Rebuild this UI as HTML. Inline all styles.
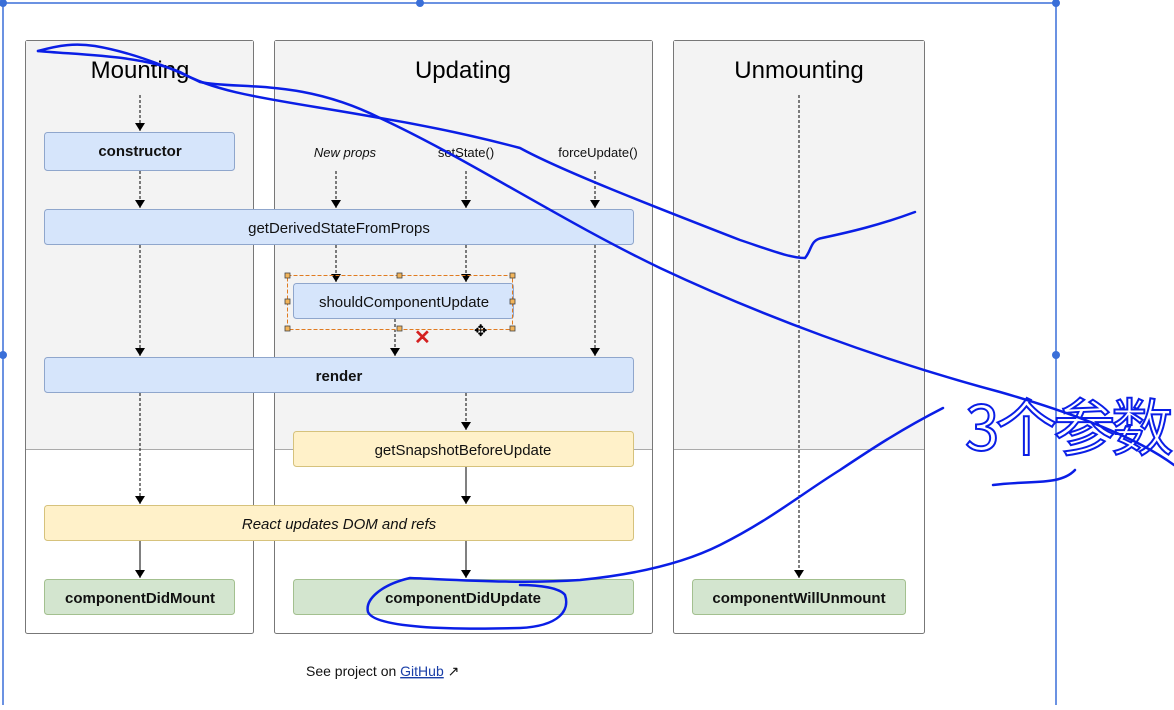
<!DOCTYPE html>
<html><head><meta charset="utf-8"><style>
body{margin:0;width:1174px;height:705px;overflow:hidden;background:#fff;font-family:"Liberation Sans",sans-serif}
</style></head><body>
<svg width="1174" height="705" xmlns="http://www.w3.org/2000/svg" font-family="Liberation Sans, sans-serif">
<defs>
<marker id="b" viewBox="0 0 8 10" markerWidth="8" markerHeight="10" refX="8" refY="5" orient="auto" markerUnits="userSpaceOnUse">
<path d="M0,0 L8,5 L0,10 z" fill="#000"/>
</marker>
</defs>
<g stroke="#777" stroke-width="1">
<rect x="25.5" y="40.5" width="228" height="593" fill="#fff" rx="2"/>
<rect x="274.5" y="40.5" width="378" height="593" fill="#fff" rx="2"/>
<rect x="673.5" y="40.5" width="251" height="593" fill="#fff" rx="2"/>
</g>
<g fill="#f3f3f3">
<rect x="26" y="41" width="227" height="408"/>
<rect x="275" y="41" width="377" height="408"/>
<rect x="674" y="41" width="250" height="408"/>
</g>
<g stroke="#aaa"><line x1="26" y1="449.5" x2="253" y2="449.5"/><line x1="275" y1="449.5" x2="652" y2="449.5"/><line x1="674" y1="449.5" x2="924" y2="449.5"/></g>
<g font-size="24" text-anchor="middle" fill="#000">
<text x="140" y="78">Mounting</text><text x="463" y="78">Updating</text><text x="799" y="78">Unmounting</text>
</g>
<g stroke="#000" stroke-width="1" fill="none" marker-end="url(#b)">
<g stroke-dasharray="3,2">
<line x1="140" y1="95" x2="140" y2="131"/><line x1="140" y1="171" x2="140" y2="208"/>
<line x1="140" y1="245" x2="140" y2="356"/><line x1="140" y1="393" x2="140" y2="504"/>
<line x1="336" y1="171" x2="336" y2="208"/><line x1="466" y1="171" x2="466" y2="208"/><line x1="595" y1="171" x2="595" y2="208"/>
<line x1="336" y1="245" x2="336" y2="282"/><line x1="466" y1="245" x2="466" y2="282"/><line x1="595" y1="245" x2="595" y2="356"/>
<line x1="395" y1="319" x2="395" y2="356"/><line x1="466" y1="393" x2="466" y2="430"/>
<line x1="799" y1="95" x2="799" y2="578"/>
</g>
<line x1="140" y1="541" x2="140" y2="578"/><line x1="466" y1="467" x2="466" y2="504"/><line x1="466" y1="541" x2="466" y2="578"/>
</g>
<g stroke="#8fa6cc" fill="#d6e5fb">
<rect x="44.5" y="132.5" width="190" height="38" rx="3"/>
<rect x="44.5" y="209.5" width="589" height="35" rx="3"/>
<rect x="293.5" y="283.5" width="220" height="35" rx="3"/>
<rect x="44.5" y="357.5" width="589" height="35" rx="3"/>
</g>
<g stroke="#d6c27c" fill="#fff1c9">
<rect x="293.5" y="431.5" width="340" height="35" rx="3"/>
<rect x="44.5" y="505.5" width="589" height="35" rx="3"/>
</g>
<g stroke="#a3c08f" fill="#d3e5cf">
<rect x="44.5" y="579.5" width="190" height="35" rx="3"/>
<rect x="293.5" y="579.5" width="340" height="35" rx="3"/>
<rect x="692.5" y="579.5" width="213" height="35" rx="3"/>
</g>
<g font-size="15" text-anchor="middle" fill="#111">
<text x="140" y="156" font-weight="bold">constructor</text>
<text x="339" y="233">getDerivedStateFromProps</text>
<text x="404" y="307">shouldComponentUpdate</text>
<text x="339" y="381" font-weight="bold">render</text>
<text x="463" y="455">getSnapshotBeforeUpdate</text>
<text x="339" y="529" font-style="italic">React updates DOM and refs</text>
<text x="140" y="603" font-weight="bold">componentDidMount</text>
<text x="463" y="603" font-weight="bold">componentDidUpdate</text>
<text x="799" y="603" font-weight="bold">componentWillUnmount</text>
</g>
<g font-size="13" text-anchor="middle" fill="#111">
<text x="345" y="157" font-style="italic">New props</text><text x="466" y="157">setState()</text><text x="598" y="157">forceUpdate()</text>
</g>
<text x="306" y="676" font-size="14" fill="#111">See project on <tspan fill="#1a3fa8" text-decoration="underline">GitHub</tspan> ↗</text>
<rect x="287.5" y="275.5" width="225" height="54" fill="none" stroke="#e07b20" stroke-dasharray="4,2"/>
<g fill="#f2b45a" stroke="#444" stroke-width="0.8">
<rect x="285" y="273" width="5" height="5"/><rect x="397" y="273" width="5" height="5"/><rect x="510" y="273" width="5" height="5"/>
<rect x="285" y="299" width="5" height="5"/><rect x="510" y="299" width="5" height="5"/>
<rect x="285" y="326" width="5" height="5"/><rect x="397" y="326" width="5" height="5"/><rect x="510" y="326" width="5" height="5"/>
</g>
<text x="414" y="344" font-size="20" fill="#d42020" font-weight="bold">✕</text>
<text x="474" y="336" font-size="16">✥</text>
<g stroke="#3a6fd8" stroke-width="1.5" fill="none">
<line x1="0" y1="3" x2="1056" y2="3"/><line x1="1056" y1="0" x2="1056" y2="705"/><line x1="3" y1="0" x2="3" y2="705"/>
</g>
<g fill="#3a6fd8"><circle cx="3" cy="3" r="4"/><circle cx="420" cy="3" r="4"/><circle cx="3" cy="355" r="4"/><circle cx="1056" cy="355" r="4"/><circle cx="1056" cy="3" r="4"/></g>
<g stroke="#0a1ee6" stroke-width="2.5" fill="none" stroke-linecap="round">
<path d="M38,51 C60,45 75,43 95,46 C130,52 165,65 200,82 C240,90 300,78 380,118 C470,160 560,220 660,268 C760,315 880,360 1000,392 C1080,415 1140,440 1174,465"/>
<path d="M38,51 C80,55 140,55 180,72 C220,95 280,100 380,118 C440,128 490,140 520,148 C560,170 650,205 740,240 C770,250 790,258 805,258 C812,250 810,240 822,238 C850,232 880,225 915,212"/>
<path d="M943,408 C900,430 870,450 840,470 C800,495 770,520 720,545 C680,565 630,575 580,580 C520,584 460,580 410,578 C380,585 365,600 368,612 C375,628 450,630 520,628 C560,626 570,610 565,595 C560,588 540,585 520,585"/>
<path d="M993,485 C1030,480 1060,486 1075,470"/>
</g>
<text x="965" y="450" font-size="62" fill="none" stroke="#0a1ee6" stroke-width="2" font-family="Noto Sans CJK SC, sans-serif" letter-spacing="-4">3个参数</text>
</svg>
</body></html>
